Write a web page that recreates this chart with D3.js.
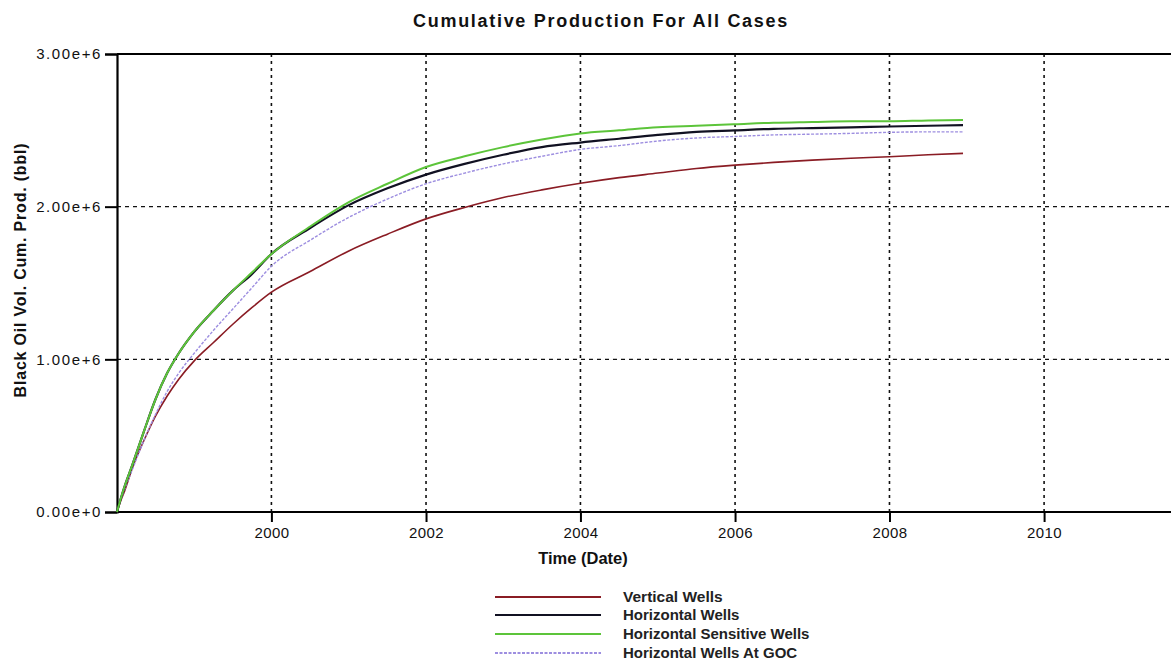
<!DOCTYPE html>
<html>
<head>
<meta charset="utf-8">
<script src="https://cdn.jsdelivr.net/npm/d3@7"></script>
<style>
  html, body { margin: 0; padding: 0; background: #fff; }
  svg { display: block; }
</style>
</head>
<body>
<svg id="chart" width="1171" height="668"></svg>
<script>
// ---- Data ----
const seriesNames = ["Vertical Wells", "Horizontal Wells", "Horizontal Sensitive Wells", "Horizontal Wells At GOC"];
// time in decimal years
const times = [1998.0, 1998.05, 1998.1, 1998.2, 1998.35, 1998.5, 1998.65, 1998.8, 1999.0, 1999.25, 1999.5, 1999.75,
  2000.0, 2000.5, 2001.0, 2001.5, 2002.0, 2002.5, 2003.0, 2003.5, 2004.0, 2004.5, 2005.0, 2005.5,
  2006.0, 2006.5, 2007.0, 2007.5, 2008.0, 2008.5, 2008.95];
// cumulative production, millions of bbl
const verticalWells = [0, 0.075, 0.14, 0.29, 0.47, 0.63, 0.76, 0.87, 0.99, 1.11, 1.23, 1.34,
  1.44, 1.575, 1.71, 1.82, 1.92, 1.995, 2.06, 2.11, 2.153, 2.19, 2.22, 2.25,
  2.272, 2.29, 2.305, 2.317, 2.327, 2.34, 2.349];
const horizontalWells = [0, 0.09, 0.17, 0.31, 0.53, 0.74, 0.91, 1.04, 1.18, 1.32, 1.45, 1.56,
  1.69, 1.86, 2.01, 2.12, 2.21, 2.28, 2.34, 2.39, 2.42, 2.445, 2.47, 2.49,
  2.50, 2.51, 2.515, 2.52, 2.525, 2.53, 2.534];
const horizontalSensitiveWells = [0, 0.09, 0.17, 0.31, 0.53, 0.74, 0.91, 1.04, 1.18, 1.32, 1.45, 1.57,
  1.69, 1.87, 2.03, 2.15, 2.26, 2.33, 2.39, 2.44, 2.48, 2.50, 2.52, 2.53,
  2.54, 2.55, 2.555, 2.56, 2.56, 2.565, 2.567];
const horizontalWellsAtGOC = [0, 0.08, 0.15, 0.28, 0.47, 0.64, 0.79, 0.91, 1.04, 1.19, 1.33, 1.47,
  1.61, 1.78, 1.93, 2.05, 2.15, 2.22, 2.28, 2.33, 2.375, 2.40, 2.43, 2.45,
  2.46, 2.47, 2.475, 2.48, 2.487, 2.49, 2.49];
const yTickValues = [0, 1e6, 2e6, 3e6];
const yTickLabels = ["0.00e+0", "1.00e+6", "2.00e+6", "3.00e+6"];
const xTickYears = [2000, 2002, 2004, 2006, 2008, 2010];

// ---- Styles ----
const colors = ["#8a1c24", "#111122", "#5cc43a", "#9d8ee0"];
const widths = [1.6, 2.2, 2.0, 1.4];
const dashes = [null, null, null, "3,1.5"];
const FONT = "'Liberation Sans', Arial, sans-serif";

function decYear(t) {
  const yr = Math.floor(t);
  const s = new Date(yr, 0, 1), e = new Date(yr + 1, 0, 1);
  return new Date(+s + (t - yr) * (e - s));
}

const svg = d3.select("#chart");
const mLeft = 117, mTop = 54, mBottom = 512;
const x = d3.scaleTime().domain([new Date(1998, 0, 1), new Date(2012, 0, 1)]).range([mLeft, mLeft + 14 * 77.25]);
const y = d3.scaleLinear().domain([0, 3e6]).range([mBottom, mTop]);

// gridlines
const grid = svg.append("g");
grid.selectAll("line.h").data(yTickValues.filter(v => v > 0 && v < 3e6)).enter().append("line")
  .attr("x1", mLeft).attr("x2", 1171).attr("y1", d => y(d)).attr("y2", d => y(d))
  .attr("stroke", "#111").attr("stroke-width", 1.4).attr("stroke-dasharray", "4,4");
grid.selectAll("line.v").data(xTickYears).enter().append("line")
  .attr("x1", d => x(new Date(d, 0, 1))).attr("x2", d => x(new Date(d, 0, 1)))
  .attr("y1", mTop).attr("y2", mBottom)
  .attr("stroke", "#111").attr("stroke-width", 1.6).attr("stroke-dasharray", "3,4");

// axes
const yAxis = d3.axisLeft(y).tickValues(yTickValues).tickSize(12).tickPadding(3)
  .tickFormat((d, i) => yTickLabels[i]);
const gy = svg.append("g").attr("transform", `translate(${mLeft},0)`).call(yAxis);
gy.select(".domain").attr("stroke", "#000").attr("stroke-width", 2.2);
gy.selectAll(".tick line").attr("stroke", "#000").attr("stroke-width", 2);
gy.selectAll(".tick text").attr("font-family", FONT)
  .attr("font-size", 15).attr("letter-spacing", 1.6).attr("fill", "#111");

const xAxis = d3.axisBottom(x).tickValues(xTickYears.map(v => new Date(v, 0, 1))).tickSize(10).tickPadding(5)
  .tickFormat(d3.timeFormat("%Y"));
const gx = svg.append("g").attr("transform", `translate(0,${mBottom})`).call(xAxis);
gx.select(".domain").remove();
gx.append("line").attr("x1", mLeft).attr("x2", 1171).attr("stroke", "#000").attr("stroke-width", 2.2);
gx.selectAll(".tick line").attr("stroke", "#000").attr("stroke-width", 2);
gx.selectAll(".tick text").attr("font-family", FONT)
  .attr("font-size", 15).attr("letter-spacing", 0.4).attr("fill", "#111");

// top frame
svg.append("line").attr("x1", mLeft).attr("x2", 1171).attr("y1", mTop).attr("y2", mTop)
  .attr("stroke", "#000").attr("stroke-width", 2);

// series
const allSeries = [verticalWells, horizontalWells, horizontalSensitiveWells, horizontalWellsAtGOC];
const line = d3.line().x(d => x(d[0])).y(d => y(d[1])).curve(d3.curveMonotoneX);
const drawOrder = [0, 3, 1, 2];
drawOrder.forEach(i => {
  const pts = times.map((t, k) => [decYear(t), allSeries[i][k] * 1e6]);
  svg.append("path").datum(pts).attr("d", line)
    .attr("fill", "none").attr("stroke", colors[i]).attr("stroke-width", widths[i])
    .attr("stroke-dasharray", dashes[i]);
});

// titles
svg.append("text").attr("x", 601).attr("y", 27).attr("text-anchor", "middle")
  .attr("font-family", FONT).attr("font-weight", "bold").attr("letter-spacing", 1.7)
  .attr("font-size", 18).attr("fill", "#111").text("Cumulative Production For All Cases");
svg.append("text").attr("x", 583).attr("y", 564).attr("text-anchor", "middle")
  .attr("font-family", FONT).attr("font-weight", "bold")
  .attr("font-size", 16.5).attr("fill", "#111").text("Time (Date)");
svg.append("text").attr("transform", "translate(26,270) rotate(-90)").attr("text-anchor", "middle")
  .attr("font-family", FONT).attr("font-weight", "bold").attr("letter-spacing", 0.8)
  .attr("font-size", 16).attr("fill", "#111").text("Black Oil Vol. Cum. Prod. (bbl)");

// legend
const legY = [597, 615, 634, 653];
const lg = svg.append("g");
seriesNames.forEach((name, i) => {
  lg.append("line").attr("x1", 495).attr("x2", 601).attr("y1", legY[i]).attr("y2", legY[i])
    .attr("stroke", colors[i]).attr("stroke-width", i === 3 ? 1.8 : 2).attr("stroke-dasharray", dashes[i]);
  lg.append("text").attr("x", 623).attr("y", legY[i] + 5)
    .attr("font-family", FONT).attr("font-weight", "bold")
    .attr("font-size", i === 0 ? 15.5 : 15).attr("fill", "#222").text(name);
});
</script>
</body>
</html>
